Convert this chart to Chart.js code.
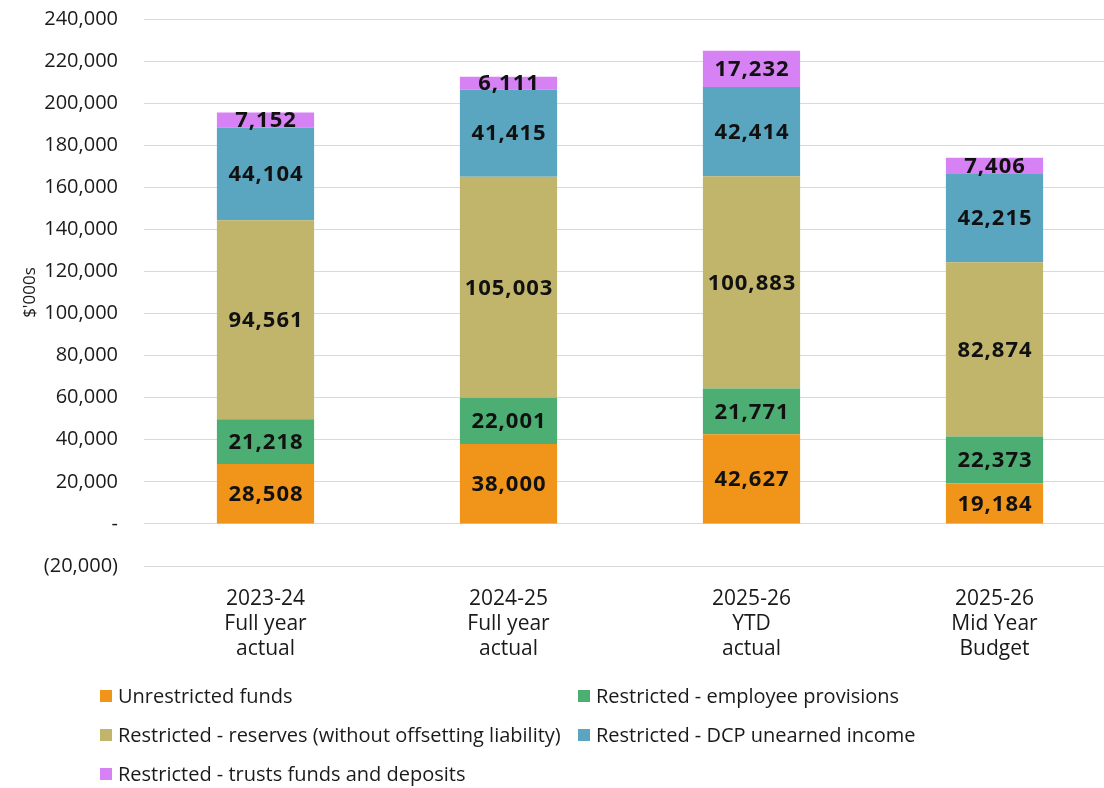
<!DOCTYPE html>
<html>
<head>
<meta charset="utf-8">
<script src="https://cdn.jsdelivr.net/npm/chart.js@4.4.1/dist/chart.umd.min.js"></script>
<style>
  html, body { margin: 0; padding: 0; background: #ffffff; overflow: hidden; }
  #wrap { width: 1116px; height: 788px; }
</style>
</head>
<body>
<div id="wrap"><canvas id="c" width="1116" height="788"></canvas></div>
<script>
// Categories (multi-line axis labels)
const categories = [
  ['2023-24', 'Full year', 'actual'],
  ['2024-25', 'Full year', 'actual'],
  ['2025-26', 'YTD', 'actual'],
  ['2025-26', 'Mid Year', 'Budget']
];

// Series values ($'000s)
const unrestrictedFunds   = [28508, 38000, 42627, 19184];
const employeeProvisions  = [21218, 22001, 21771, 22373];
const reserves            = [94561, 105003, 100883, 82874];
const dcpUnearnedIncome   = [44104, 41415, 42414, 42215];
const trustsAndDeposits   = [7152, 6111, 17232, 7406];

const seriesNames = [
  'Unrestricted funds',
  'Restricted - employee provisions',
  'Restricted - reserves (without offsetting liability)',
  'Restricted - DCP unearned income',
  'Restricted - trusts funds and deposits'
];
const seriesColors = ['#F0951A', '#4CAE72', '#C1B56B', '#5AA6C1', '#D681F4'];

// Y axis range and step
const yMin = -20000;
const yMax = 240000;
const yStep = 20000;

const FONT = '"Open Sans", "DejaVu Sans", sans-serif';

function fmtTick(v) {
  if (v === 0) return '-';
  if (v < 0) return '(' + Math.abs(v).toLocaleString('en-US') + ')';
  return v.toLocaleString('en-US');
}

// Value labels centred in each stacked segment
const segmentLabels = {
  id: 'segmentLabels',
  afterDatasetsDraw(chart) {
    const ctx = chart.ctx;
    ctx.save();
    ctx.font = 'bold 22px ' + FONT;
    ctx.letterSpacing = '1px';
    ctx.fillStyle = '#111111';
    ctx.textAlign = 'center';
    ctx.textBaseline = 'middle';
    chart.data.datasets.forEach((ds, i) => {
      const meta = chart.getDatasetMeta(i);
      meta.data.forEach((bar, j) => {
        const v = ds.data[j];
        const mid = (bar.y + bar.base) / 2;
        ctx.fillText(v.toLocaleString('en-US'), bar.x + 0.5, mid + 1);
      });
    });
    ctx.restore();
  }
};

// Two-column legend below the axis labels
const gridLegend = {
  id: 'gridLegend',
  afterDraw(chart) {
    const ctx = chart.ctx;
    ctx.save();
    ctx.font = '20px ' + FONT;
    ctx.textBaseline = 'middle';
    const cols = [100, 578];
    const rows = [696, 735, 774];
    chart.data.datasets.forEach((ds, i) => {
      const x = cols[i % 2];
      const y = rows[Math.floor(i / 2)];
      ctx.fillStyle = ds.backgroundColor;
      ctx.fillRect(x, y - 6, 12, 12);
      ctx.fillStyle = '#1a1a1a';
      ctx.fillText(ds.label, x + 18, y + 1);
    });
    ctx.restore();
  }
};

const seriesData = [unrestrictedFunds, employeeProvisions, reserves, dcpUnearnedIncome, trustsAndDeposits];

new Chart(document.getElementById('c'), {
  type: 'bar',
  data: {
    labels: categories,
    datasets: seriesData.map((d, i) => ({
      label: seriesNames[i],
      data: d,
      backgroundColor: seriesColors[i],
      borderWidth: 0,
      barPercentage: 0.4,
      categoryPercentage: 1.0
    }))
  },
  options: {
    responsive: false,
    animation: false,
    devicePixelRatio: 1,
    layout: { padding: { top: 19, right: 0, bottom: 0, left: 0 } },
    plugins: {
      legend: { display: false },
      tooltip: { enabled: false }
    },
    scales: {
      x: {
        stacked: true,
        grid: { display: false },
        border: { display: false },
        ticks: {
          color: '#1a1a1a',
          font: { family: FONT, size: 21, lineHeight: 1.19 },
          padding: 13,
          maxRotation: 0
        },
        afterFit(scale) {
          scale.height = 222;
          scale.paddingTop = 0;
          scale.paddingBottom = 0;
        }
      },
      y: {
        stacked: true,
        min: yMin,
        max: yMax,
        grid: { color: '#d9d9d9', lineWidth: 1, drawTicks: false },
        border: { display: false },
        ticks: {
          stepSize: yStep,
          color: '#1a1a1a',
          font: { family: FONT, size: 20 },
          padding: 26,
          callback: (v) => fmtTick(v)
        },
        title: {
          display: true,
          text: "$'000s",
          color: '#1a1a1a',
          font: { family: FONT, size: 17 },
          padding: { top: 20, bottom: 0 }
        },
        afterFit(scale) {
          scale.width = 144;
          scale.paddingTop = 0;
          scale.paddingBottom = 0;
        }
      }
    }
  },
  plugins: [segmentLabels, gridLegend]
});
</script>
</body>
</html>
